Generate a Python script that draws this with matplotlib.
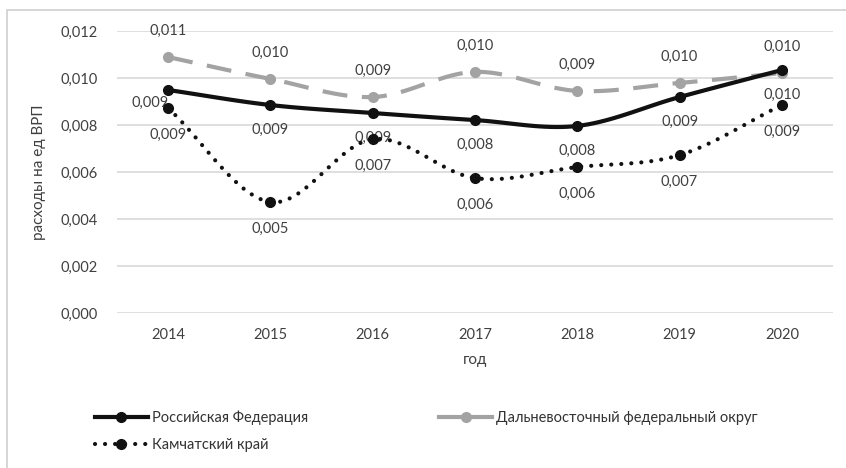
import numpy as np
import matplotlib
matplotlib.use('Agg')
import matplotlib.pyplot as plt
from matplotlib.patches import Rectangle
from matplotlib.lines import Line2D

plt.rcParams['font.family'] = ['Lato', 'DejaVu Sans']

# Data
years = ['2014', '2015', '2016', '2017', '2018', '2019', '2020']
rf = [0.00949, 0.00885, 0.00851, 0.00821, 0.00796, 0.00919, 0.01034]
dfo = [0.01089, 0.00996, 0.00919, 0.01026, 0.00945, 0.00979, 0.01021]
kam = [0.00872, 0.00472, 0.00740, 0.00574, 0.00621, 0.00672, 0.00885]
rf_labels = ['0,009', '0,009', '0,009', '0,008', '0,008', '0,009', '0,010']
dfo_labels = ['0,011', '0,010', '0,009', '0,010', '0,009', '0,010', '0,010']
kam_labels = ['0,009', '0,005', '0,007', '0,006', '0,006', '0,007', '0,009']


def smooth(x, y, n=20):
    # Catmull-Rom style smoothing like Excel's "smoothed line"
    x = np.asarray(x, float)
    y = np.asarray(y, float)
    px = np.concatenate([[2 * x[0] - x[1]], x, [2 * x[-1] - x[-2]]])
    py = np.concatenate([[2 * y[0] - y[1]], y, [2 * y[-1] - y[-2]]])
    xs, ys = [], []
    t = np.linspace(0, 1, n)
    for i in range(1, len(px) - 2):
        p0, p1, p2, p3 = py[i - 1], py[i], py[i + 1], py[i + 2]
        q0, q1, q2, q3 = px[i - 1], px[i], px[i + 1], px[i + 2]
        ys.append(0.5 * (2 * p1 + (-p0 + p2) * t + (2 * p0 - 5 * p1 + 4 * p2 - p3) * t ** 2
                         + (-p0 + 3 * p1 - 3 * p2 + p3) * t ** 3))
        xs.append(0.5 * (2 * q1 + (-q0 + q2) * t + (2 * q0 - 5 * q1 + 4 * q2 - q3) * t ** 2
                         + (-q0 + 3 * q1 - 3 * q2 + q3) * t ** 3))
    return np.concatenate(xs), np.concatenate(ys)


fig = plt.figure(figsize=(8.46, 4.68), dpi=100)
fig.patches.append(Rectangle((7 / 846, -0.1), 1.2, 1 - 10 / 468 + 0.1,
                             transform=fig.transFigure, fill=False,
                             edgecolor='#d0d0d0', lw=1.2))
ax = fig.add_axes([117 / 846, 1 - 313 / 468, 716 / 846, 282 / 468])

x = np.arange(len(years))
gray = '#a3a3a3'
black = '#111111'
dots = (0, (0.01, 2.4))

sx, sy = smooth(x, dfo)
ax.plot(sx, sy, color=gray, lw=3, dashes=(6, 3.5), zorder=3)
ax.plot(x, dfo, 'o', color=gray, ms=7, zorder=3)

sx, sy = smooth(x, rf)
ax.plot(sx, sy, color=black, lw=3, zorder=4)
ax.plot(x, rf, 'o', color=black, ms=7, zorder=4)

sx, sy = smooth(x, kam)
ax.plot(sx, sy, color=black, lw=3, linestyle=dots,
        dash_capstyle='round', zorder=4)
ax.plot(x, kam, 'o', color=black, ms=7, zorder=4)

lab = dict(fontsize=10.5, color='#404040', ha='center', va='center')
for i in range(len(x)):
    ax.annotate(dfo_labels[i], (x[i], dfo[i]), xytext=(0, 19),
                textcoords='offset points', **lab)
    if i == 0:
        ax.annotate(rf_labels[i], (x[i], rf[i]), xytext=(-13, -9),
                    textcoords='offset points', **lab)
    else:
        ax.annotate(rf_labels[i], (x[i], rf[i]), xytext=(0, -18),
                    textcoords='offset points', **lab)
    ax.annotate(kam_labels[i], (x[i], kam[i]), xytext=(0, -19),
                textcoords='offset points', **lab)

ax.set_xlim(-0.5, 6.5)
ax.set_ylim(0, 0.012)
ax.set_yticks(np.arange(0, 0.0121, 0.002))
ax.set_yticklabels([('%.3f' % v).replace('.', ',') for v in np.arange(0, 0.0121, 0.002)])
ax.set_xticks(x)
ax.set_xticklabels(years)
ax.tick_params(length=0, labelsize=10.5, labelcolor='#404040')
ax.tick_params(axis='y', pad=14)
ax.tick_params(axis='x', pad=11)
ax.grid(axis='y', color='#d9d9d9', lw=1.2)
ax.set_axisbelow(True)
for s in ax.spines.values():
    s.set_visible(False)
ax.set_xlabel('год', fontsize=11, color='#404040', labelpad=8)
ax.set_ylabel('расходы на ед ВРП', fontsize=11, color='#404040', labelpad=10)

handles = [
    Line2D([], [], color=black, lw=3, marker='o', ms=7),
    Line2D([], [], color=black, lw=3, linestyle=dots,
           dash_capstyle='round', marker='o', ms=7),
    Line2D([], [], color=gray, lw=3, marker='o', ms=7),
]
names = ['Российская Федерация', 'Камчатский край',
         'Дальневосточный федеральный округ']
fig.legend(handles, names, ncol=2, loc='upper left',
           bbox_to_anchor=(82 / 846, 1 - 397 / 468), frameon=False,
           fontsize=10.5, handlelength=3.6, handletextpad=0.3,
           columnspacing=9.0, labelspacing=0.9, numpoints=1,
           labelcolor='#333333')

fig.savefig('out.png', dpi=100)
